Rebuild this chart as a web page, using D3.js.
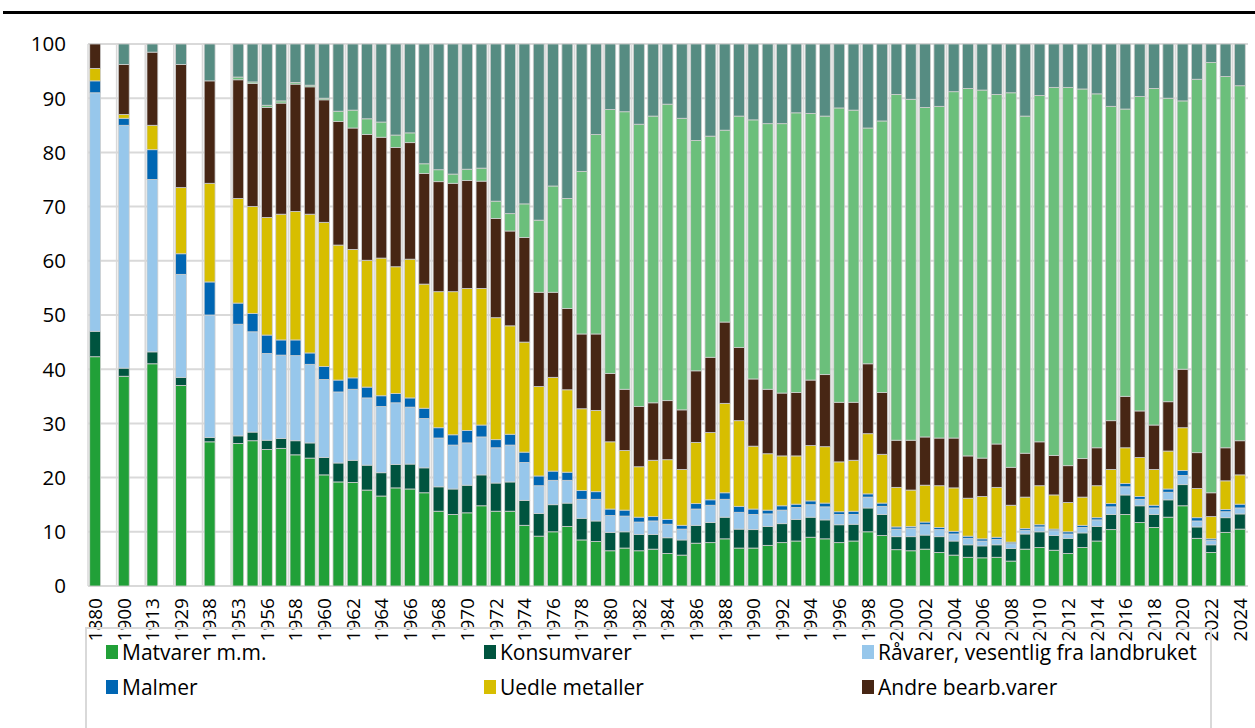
<!DOCTYPE html>
<html>
<head>
<meta charset="utf-8">
<script src="https://cdn.jsdelivr.net/npm/d3@7"></script>
<style>
  body { margin: 0; background: #fff; }
  text { font-family: "Open Sans", "Noto Sans", sans-serif; fill: #000; }
</style>
</head>
<body>
<div id="chart"></div>
<script>
// years shown as bars; the early years each get an empty slot after them
const years = [1880, 1900, 1913, 1929, 1938, 1953, 1955, 1956, 1957, 1958, 1959, 1960,
  1961, 1962, 1963, 1964, 1965, 1966, 1967, 1968, 1969, 1970, 1971, 1972, 1973, 1974,
  1975, 1976, 1977, 1978, 1979, 1980, 1981, 1982, 1983, 1984, 1985, 1986, 1987, 1988,
  1989, 1990, 1991, 1992, 1993, 1994, 1995, 1996, 1997, 1998, 1999, 2000, 2001, 2002,
  2003, 2004, 2005, 2006, 2007, 2008, 2009, 2010, 2011, 2012, 2013, 2014, 2015, 2016,
  2017, 2018, 2019, 2020, 2021, 2022, 2023, 2024];
const gapAfter = [1880, 1900, 1913, 1929, 1938];

const yTicks = [0, 10, 20, 30, 40, 50, 60, 70, 80, 90, 100];

// share of exports, per cent
const matvarer = [42.3, 38.7, 41.0, 37.0, 26.6, 26.3, 26.8, 25.2, 25.4, 24.2, 23.6, 20.5,
  19.2, 19.1, 17.7, 16.6, 18.1, 17.9, 17.2, 13.8, 13.2, 13.5, 14.8, 13.8, 13.8, 11.2,
  9.2, 10.0, 11.0, 8.5, 8.2, 6.5, 7.0, 6.5, 6.8, 6.0, 5.7, 7.9, 8.0, 8.7,
  7.0, 7.0, 7.5, 8.0, 8.3, 9.0, 8.7, 8.0, 8.3, 10.0, 9.3, 6.7, 6.5, 6.8,
  6.2, 5.7, 5.3, 5.2, 5.3, 4.6, 6.8, 7.1, 6.6, 6.0, 7.1, 8.3, 10.4, 13.2,
  11.7, 10.8, 12.7, 14.8, 8.8, 6.2, 9.9, 10.5];
const konsumvarer = [4.7, 1.5, 2.2, 1.5, 0.8, 1.4, 1.6, 1.7, 1.8, 2.6, 2.8, 3.2,
  3.5, 4.1, 4.6, 4.3, 4.3, 4.6, 4.6, 4.5, 4.7, 5.1, 5.7, 5.2, 5.4, 4.6,
  4.2, 5.0, 4.3, 4.0, 3.8, 3.4, 3.0, 3.0, 2.7, 2.9, 2.8, 3.3, 3.7, 4.0,
  3.5, 3.4, 3.5, 3.5, 4.0, 3.7, 3.5, 3.3, 3.1, 4.4, 3.9, 2.4, 2.6, 2.6,
  2.9, 2.6, 2.3, 2.2, 2.3, 2.3, 2.8, 2.9, 2.7, 2.8, 2.7, 2.7, 2.8, 3.6,
  3.1, 2.4, 3.2, 3.9, 2.1, 1.4, 2.7, 2.8];
const raavarer = [44.0, 44.8, 31.8, 19.0, 22.6, 20.6, 18.5, 16.0, 15.4, 15.7, 14.5, 14.4,
  13.1, 13.1, 12.4, 12.2, 11.4, 10.5, 9.1, 9.0, 8.1, 7.8, 7.0, 6.5, 6.8, 7.0,
  5.1, 4.5, 4.2, 3.5, 4.0, 3.1, 2.9, 2.3, 2.5, 2.5, 2.0, 3.0, 3.2, 3.3,
  3.1, 2.8, 2.3, 2.5, 2.2, 2.3, 2.4, 1.9, 1.8, 2.0, 1.5, 1.4, 1.6, 1.9,
  1.3, 1.3, 1.2, 0.9, 1.0, 0.9, 0.7, 0.9, 0.9, 0.8, 1.0, 1.2, 1.4, 1.5,
  1.2, 1.2, 1.4, 1.7, 1.1, 0.8, 1.1, 1.1];
const malmer = [2.2, 1.3, 5.5, 3.8, 6.1, 3.9, 3.4, 3.4, 2.8, 2.9, 2.1, 2.4,
  2.2, 2.1, 2.0, 2.0, 1.7, 1.7, 1.9, 1.9, 1.9, 2.3, 2.2, 1.5, 2.0, 1.9,
  1.8, 1.7, 1.5, 1.6, 1.4, 1.2, 1.1, 0.9, 0.8, 0.9, 0.7, 1.0, 1.0, 1.2,
  1.1, 1.0, 0.7, 0.8, 0.6, 0.7, 0.7, 0.5, 0.6, 0.6, 0.6, 0.4, 0.3, 0.5,
  0.4, 0.5, 0.4, 0.4, 0.4, 0.3, 0.3, 0.4, 0.3, 0.4, 0.4, 0.4, 0.6, 0.6,
  0.5, 0.5, 0.6, 0.9, 0.6, 0.3, 0.4, 0.7];
const uedleMetaller = [2.3, 0.7, 4.5, 12.2, 18.2, 19.3, 19.7, 21.7, 23.2, 23.7, 25.6, 26.6,
  24.9, 23.7, 23.4, 25.4, 23.4, 25.6, 22.9, 25.1, 26.4, 26.2, 25.2, 22.5, 20.0, 20.3,
  16.5, 17.3, 15.2, 15.1, 15.0, 12.4, 11.0, 9.3, 10.4, 11.0, 10.3, 11.3, 12.4, 16.5,
  15.8, 11.6, 10.4, 9.2, 8.9, 10.2, 10.4, 9.2, 9.4, 11.1, 9.0, 7.3, 6.7, 6.8,
  7.7, 8.0, 7.0, 7.8, 9.2, 6.8, 5.8, 7.2, 6.3, 5.4, 5.2, 5.9, 6.3, 6.6,
  7.2, 6.6, 7.0, 7.9, 5.4, 4.1, 5.3, 5.4];
const andreBearb = [4.5, 9.2, 13.5, 22.7, 18.9, 21.9, 22.7, 20.3, 20.5, 23.5, 23.5, 22.6,
  22.8, 22.4, 23.2, 22.3, 22.0, 21.5, 20.4, 20.3, 20.0, 19.9, 19.8, 18.3, 17.5, 19.3,
  17.4, 15.7, 15.0, 13.8, 14.1, 12.6, 11.3, 11.1, 10.6, 10.9, 11.0, 13.2, 13.9, 15.0,
  13.5, 12.4, 11.9, 11.6, 11.7, 12.1, 13.3, 11.0, 10.7, 12.9, 11.4, 8.7, 9.2, 8.9,
  8.8, 9.2, 7.8, 7.1, 8.0, 7.0, 8.1, 8.1, 7.3, 6.8, 7.1, 7.0, 9.0, 9.5,
  8.6, 8.2, 9.1, 10.8, 6.6, 4.4, 6.1, 6.3];
const oljeGass = [0, 0, 0, 0, 0, 0.5, 0.3, 0.4, 0.4, 0.3, 0.3, 0.3,
  1.9, 3.3, 2.9, 2.8, 2.3, 1.8, 1.8, 2.2, 1.7, 2.1, 2.4, 3.2, 3.2, 6.2,
  13.3, 19.6, 20.3, 30.0, 36.8, 48.7, 51.2, 52.1, 52.9, 54.7, 53.8, 42.5, 40.8, 35.4,
  42.7, 47.8, 49.0, 49.7, 51.6, 49.2, 47.7, 54.3, 53.9, 43.5, 50.1, 63.8, 62.9, 60.8,
  61.2, 63.9, 67.8, 67.9, 64.5, 69.1, 62.2, 63.9, 67.9, 69.8, 68.2, 65.3, 58.0, 53.0,
  58.0, 62.1, 56.0, 49.5, 68.9, 79.4, 68.5, 65.5];
const maskiner = [0, 3.8, 1.5, 3.8, 6.8, 6.1, 7.0, 11.3, 10.5, 7.1, 7.6, 10.0,
  12.4, 12.2, 13.8, 14.4, 16.8, 16.4, 22.1, 23.2, 24.0, 23.1, 22.9, 29.0, 31.3, 29.5,
  32.5, 26.2, 28.5, 23.5, 16.7, 12.1, 12.5, 14.8, 13.3, 11.1, 13.7, 17.8, 17.0, 15.9,
  13.3, 14.0, 14.7, 14.7, 12.7, 12.8, 13.3, 11.8, 12.2, 15.5, 14.2, 9.3, 10.2, 11.7,
  11.5, 8.8, 8.2, 8.5, 9.3, 9.0, 13.3, 9.5, 8.0, 8.0, 8.3, 9.2, 11.5, 12.0,
  9.7, 8.2, 10.0, 10.5, 6.5, 3.4, 6.0, 7.7];

const seriesNames = ['Matvarer m.m.', 'Konsumvarer', 'Råvarer, vesentlig fra landbruket',
  'Malmer', 'Uedle metaller', 'Andre bearb.varer', 'Olje og gass', 'Maskiner og transportmidler'];
const seriesValues = [matvarer, konsumvarer, raavarer, malmer, uedleMetaller, andreBearb, oljeGass, maskiner];
const colors = ['#21a038', '#00543f', '#97c7eb', '#0066b3', '#d7be00', '#472614', '#6bbf7b', '#568c82'];

const width = 1255, height = 728;
const svg = d3.select('#chart').append('svg')
  .attr('width', width)
  .attr('height', height);

// heavy rule under the (cropped) heading
svg.append('rect')
  .attr('x', 3).attr('y', 11).attr('width', width - 3).attr('height', 3)
  .attr('fill', '#000');

const slots = [];
years.forEach(y => {
  slots.push(String(y));
  if (gapAfter.includes(y)) slots.push('gap' + y);
});

const x = d3.scaleBand()
  .domain(slots)
  .range([88, 1247])
  .paddingInner(0.24)
  .paddingOuter(0.12);

const yScale = d3.scaleLinear().domain([0, 100]).range([586, 44]);

const rows = years.map((yr, i) => {
  const row = { year: String(yr) };
  seriesNames.forEach((name, s) => { row[name] = seriesValues[s][i]; });
  return row;
});
const stacked = d3.stack().keys(seriesNames)(rows);

const grid = svg.append('g');
grid.selectAll('line.h')
  .data(yTicks)
  .enter().append('line')
  .attr('x1', 88).attr('x2', 1248)
  .attr('y1', d => yScale(d)).attr('y2', d => yScale(d))
  .attr('stroke', '#d9d9d9')
  .attr('stroke-width', 2);

const step = x.step();
const x0 = x.range()[0];
grid.selectAll('line.v')
  .data(d3.range(0, slots.length, 2))
  .enter().append('line')
  .attr('x1', d => x0 + d * step).attr('x2', d => x0 + d * step)
  .attr('y1', yScale(100)).attr('y2', yScale(0))
  .attr('stroke', '#d9d9d9')
  .attr('stroke-width', 1.5);

// bars
svg.append('g')
  .selectAll('g')
  .data(stacked)
  .enter().append('g')
  .attr('fill', (d, i) => colors[i])
  .selectAll('rect')
  .data(d => d)
  .enter().append('rect')
  .attr('x', d => x(d.data.year))
  .attr('width', x.bandwidth())
  .attr('y', d => yScale(d[1]))
  .attr('height', d => yScale(d[0]) - yScale(d[1]))
  .attr('stroke', '#cfcfcf')
  .attr('stroke-width', 0.8);

// y axis labels
svg.append('g')
  .selectAll('text')
  .data(yTicks)
  .enter().append('text')
  .attr('x', 66)
  .attr('y', d => yScale(d))
  .attr('dy', '0.36em')
  .attr('text-anchor', 'end')
  .style('font-size', '20.5px')
  .text(d => d);

// x axis labels every second slot
const labelled = slots.filter((s, i) => i % 2 === 0 && !s.startsWith('gap'));
svg.append('g')
  .selectAll('text')
  .data(labelled)
  .enter().append('text')
  .attr('transform', d => `translate(${x(d) + x.bandwidth() / 2},598) rotate(-90)`)
  .attr('dy', '0.36em')
  .attr('text-anchor', 'end')
  .style('font-size', '19px')
  .text(d => d);

// legend
const legend = svg.append('g');
legend.append('rect')
  .attr('x', 86).attr('y', 628)
  .attr('width', 1125).attr('height', 140)
  .attr('fill', 'none')
  .attr('stroke', '#d9d9d9')
  .attr('stroke-width', 2);

const colX = [106, 484, 862];
const rowY = [652, 687];
const items = legend.selectAll('g.item')
  .data(seriesNames.slice(0, 6))
  .enter().append('g')
  .attr('transform', (d, i) => `translate(${colX[i % 3]},${rowY[Math.floor(i / 3)]})`);

items.append('rect')
  .attr('x', 0).attr('y', -7)
  .attr('width', 12).attr('height', 14)
  .attr('fill', (d, i) => colors[i]);

items.append('text')
  .attr('x', 16)
  .attr('dy', '0.36em')
  .style('font-size', '21px')
  .text(d => d);
</script>
</body>
</html>
